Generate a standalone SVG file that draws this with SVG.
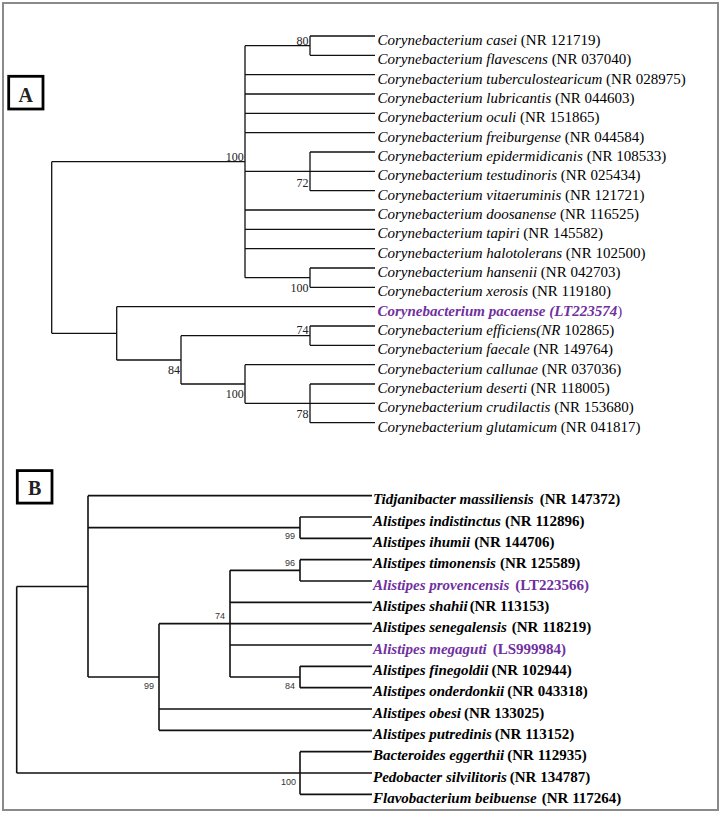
<svg xmlns="http://www.w3.org/2000/svg" width="723" height="816" viewBox="0 0 723 816">
<style>
.frame{fill:none;stroke:#8a8a8a;stroke-width:2}
.box{fill:#fff;stroke:#000;stroke-width:2.8}
.boxt{font-family:"Liberation Serif",serif;font-weight:bold;font-size:20px;text-anchor:middle;fill:#222}
.ta path{fill:none;stroke:#111;stroke-width:1.3}
.tb path{fill:none;stroke:#111;stroke-width:1.6}
.la{font-family:"Liberation Serif",serif;font-size:15px;fill:#000}
.lb{font-family:"Liberation Serif",serif;font-size:15px;font-weight:bold;fill:#000}
.i{font-style:italic}
.p{fill:#7030A0}
.bsa{font-family:"Liberation Serif",serif;font-size:12px;fill:#222;text-anchor:end}
.bsb{font-family:"Liberation Sans",sans-serif;font-size:9px;fill:#333;text-anchor:end}
</style>
<rect class="frame" x="3" y="3" width="715" height="807"/>

<g id="panelA-label"><rect class="box" x="8.7" y="76.3" width="34.3" height="32.7"/><text class="boxt" x="25.8" y="101.5">A</text></g>
<g id="panelB-label"><rect class="box" x="17.3" y="470.6" width="34.7" height="32.5"/><text class="boxt" x="34.6" y="495">B</text></g>

<g id="connectors">
<g class="ta">
<path d="M51.7,161.67V333.3M51.7,161.67H245M51.7,333.3H116.7"/>
<path d="M245,45.67V277.67M245,45.67H310M310,36V55.33M310,36H375M310,55.33H375"/>
<path d="M245,74.67H375M245,94H375M245,113.33H375M245,132.67H375"/>
<path d="M245,171.33H375M310,152V190.67M310,152H375M310,190.67H375"/>
<path d="M245,210H375M245,229.33H375M245,248.67H375"/>
<path d="M245,277.67H310M310,268V287.33M310,268H375M310,287.33H375"/>
<path d="M116.7,306.67V360M116.7,306.67H375M116.7,360H181"/>
<path d="M181,335.67V384M181,335.67H310M310,326V345.33M310,326H375M310,345.33H375"/>
<path d="M181,384H245M245,364.67V403.33M245,364.67H375M245,403.33H375M310,384V422.67M310,384H375M310,422.67H375"/>
</g>
<g class="tb">
<path d="M16.7,586.5V773M16.7,586.5H88M88,495.67V677M88,495.67H372"/>
<path d="M88,527.67H300M300,517V538.33M300,517H372M300,538.33H372"/>
<path d="M88,677H159M159,623.67V730.33M159,623.67H372M159,709H372M159,730.33H372"/>
<path d="M230,570.33V677M230,570.33H300M300,559.67V581M300,559.67H372M300,581H372"/>
<path d="M230,602.33H372M230,645H372M230,677H300M300,666.33V687.67M300,666.33H372M300,687.67H372"/>
<path d="M16.7,773H372M300,751.67V794.33M300,751.67H372M300,794.33H372"/>
</g>
</g>

<g id="bootstrap-A">
<text class="bsa" x="308.5" y="45">80</text>
<text class="bsa" x="243.8" y="161">100</text>
<text class="bsa" x="308.5" y="186.5">72</text>
<text class="bsa" x="308.5" y="291.5">100</text>
<text class="bsa" x="308.5" y="334.3">74</text>
<text class="bsa" x="180" y="374">84</text>
<text class="bsa" x="243.8" y="398.3">100</text>
<text class="bsa" x="308.5" y="417.7">78</text>
</g>
<g id="bootstrap-B">
<text class="bsb" x="295" y="539.3">99</text>
<text class="bsb" x="295" y="566">96</text>
<text class="bsb" x="225" y="619.3">74</text>
<text class="bsb" x="154" y="689.3">99</text>
<text class="bsb" x="295" y="689.3">84</text>
<text class="bsb" x="296" y="785.3">100</text>
</g>

<g id="leaves-A">
<text id="a1" class="la" x="377.5" y="45"><tspan class="i">Corynebacterium casei</tspan> (NR 121719)</text>
<text id="a2" class="la" x="377.5" y="64.33"><tspan class="i">Corynebacterium flavescens</tspan> (NR 037040)</text>
<text id="a3" class="la" x="377.5" y="83.67"><tspan class="i">Corynebacterium tuberculostearicum</tspan> (NR 028975)</text>
<text id="a4" class="la" x="377.5" y="103"><tspan class="i">Corynebacterium lubricantis</tspan> (NR 044603)</text>
<text id="a5" class="la" x="377.5" y="122.33"><tspan class="i">Corynebacterium oculi</tspan> (NR 151865)</text>
<text id="a6" class="la" x="377.5" y="141.67"><tspan class="i">Corynebacterium freiburgense</tspan> (NR 044584)</text>
<text id="a7" class="la" x="377.5" y="161"><tspan class="i">Corynebacterium epidermidicanis</tspan> (NR 108533)</text>
<text id="a8" class="la" x="377.5" y="180.33"><tspan class="i">Corynebacterium testudinoris</tspan> (NR 025434)</text>
<text id="a9" class="la" x="377.5" y="199.67"><tspan class="i">Corynebacterium vitaeruminis</tspan> (NR 121721)</text>
<text id="a10" class="la" x="377.5" y="219"><tspan class="i">Corynebacterium doosanense</tspan> (NR 116525)</text>
<text id="a11" class="la" x="377.5" y="238.33"><tspan class="i">Corynebacterium tapiri</tspan> (NR 145582)</text>
<text id="a12" class="la" x="377.5" y="257.67"><tspan class="i">Corynebacterium halotolerans</tspan> (NR 102500)</text>
<text id="a13" class="la" x="377.5" y="277"><tspan class="i">Corynebacterium hansenii</tspan> (NR 042703)</text>
<text id="a14" class="la" x="377.5" y="296.33"><tspan class="i">Corynebacterium xerosis</tspan> (NR 119180)</text>
<text id="a15" class="la p" x="377.5" y="315.67"><tspan class="i" font-weight="bold">Corynebacterium pacaense (LT223574</tspan>)</text>
<text id="a16" class="la" x="377.5" y="335"><tspan class="i">Corynebacterium efficiens(NR</tspan> 102865)</text>
<text id="a17" class="la" x="377.5" y="354.33"><tspan class="i">Corynebacterium faecale</tspan> (NR 149764)</text>
<text id="a18" class="la" x="377.5" y="373.67"><tspan class="i">Corynebacterium callunae</tspan> (NR 037036)</text>
<text id="a19" class="la" x="377.5" y="393"><tspan class="i">Corynebacterium deserti</tspan> (NR 118005)</text>
<text id="a20" class="la" x="377.5" y="412.33"><tspan class="i">Corynebacterium crudilactis</tspan> (NR 153680)</text>
<text id="a21" class="la" x="377.5" y="431.67"><tspan class="i">Corynebacterium glutamicum</tspan> (NR 041817)</text>
</g>

<g id="leaves-B">
<text id="b1" class="lb" x="373" y="504.2"><tspan class="i">Tidjanibacter massiliensis</tspan><tspan dx="6">(NR 147372)</tspan></text>
<text id="b2" class="lb" x="373" y="525.5"><tspan class="i">Alistipes indistinctus</tspan><tspan dx="4">(NR 112896)</tspan></text>
<text id="b3" class="lb" x="373" y="546.8"><tspan class="i">Alistipes ihumii</tspan><tspan dx="4">(NR 144706)</tspan></text>
<text id="b4" class="lb" x="373" y="568.2"><tspan class="i">Alistipes timonensis</tspan><tspan dx="4">(NR 125589)</tspan></text>
<text id="b5" class="lb p" x="373" y="589.5"><tspan class="i">Alistipes provencensis</tspan><tspan dx="6">(LT223566)</tspan></text>
<text id="b6" class="lb" x="373" y="610.8"><tspan class="i">Alistipes shahii</tspan><tspan dx="2">(NR 113153)</tspan></text>
<text id="b7" class="lb" x="373" y="632.2"><tspan class="i">Alistipes senegalensis</tspan><tspan dx="5">(NR 118219)</tspan></text>
<text id="b8" class="lb p" x="373" y="653.5"><tspan class="i">Alistipes megaguti</tspan><tspan dx="6">(LS999984)</tspan></text>
<text id="b9" class="lb" x="373" y="674.8"><tspan class="i">Alistipes finegoldii</tspan><tspan dx="3">(NR 102944)</tspan></text>
<text id="b10" class="lb" x="373" y="696.2"><tspan class="i">Alistipes onderdonkii</tspan><tspan dx="3">(NR 043318)</tspan></text>
<text id="b11" class="lb" x="373" y="717.5"><tspan class="i">Alistipes obesi</tspan><tspan dx="3">(NR 133025)</tspan></text>
<text id="b12" class="lb" x="373" y="738.8"><tspan class="i">Alistipes putredinis</tspan><tspan dx="3">(NR 113152)</tspan></text>
<text id="b13" class="lb" x="373" y="760.2"><tspan class="i">Bacteroides eggerthii</tspan><tspan dx="3">(NR 112935)</tspan></text>
<text id="b14" class="lb" x="373" y="781.5"><tspan class="i">Pedobacter silvilitoris</tspan><tspan dx="3">(NR 134787)</tspan></text>
<text id="b15" class="lb" x="373" y="802.8"><tspan class="i">Flavobacterium beibuense</tspan><tspan dx="5">(NR 117264)</tspan></text>
</g>
</svg>
